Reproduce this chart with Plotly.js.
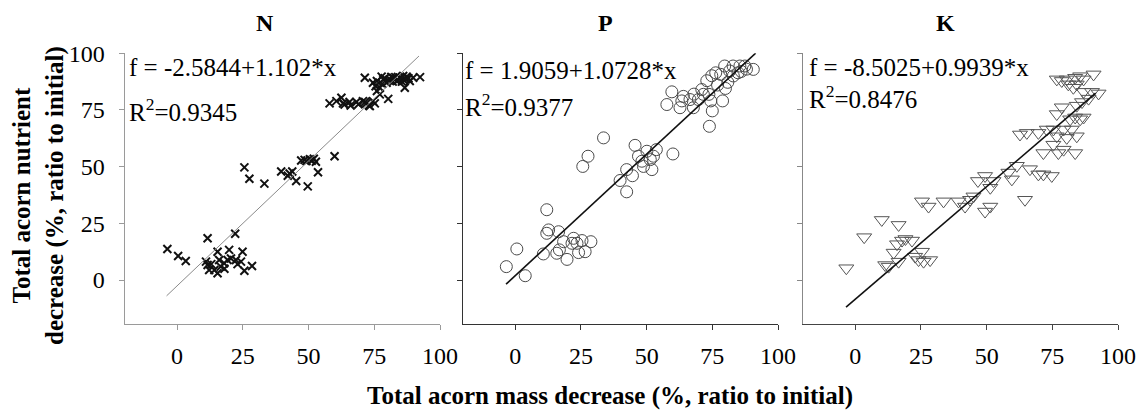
<!DOCTYPE html>
<html>
<head>
<meta charset="utf-8">
<script src="https://cdn.plot.ly/plotly-3.0.1.min.js"></script>
<style>html,body{margin:0;padding:0;background:#fff;}#chart{width:1147px;height:417px;}</style>
</head>
<body>
<div id="chart"></div>
<script>
// ---- data ----
const panelNames = ["N", "P", "K"];
const tickVals = [0, 25, 50, 75, 100];
const tickText = ["0", "25", "50", "75", "100"];

const xN = [-3.7,0.4,3.3,11.6,11,11.6,12.2,15.4,16,15.4,16.6,17.9,19.8,19.2,22.1,22.4,24.9,24.3,25.6,28.5,14.2,13,18,20.5,23,
  25.6,27.5,33.2,39.6,42.1,43.8,42.8,45.3,49.7,47.2,48.5,49.2,50.5,51.2,52,52.8,53.6,59.9,
  58,60.6,62.5,63.1,63.7,65.6,68.2,70.7,72,73.3,74.5,75.2,80.3,77.1,66,69,71.5,73,
  71.4,74.5,76,77.8,78.4,79.7,81,82.2,83.5,84.7,86,87.3,88.5,89.8,92.4,86.6,77.1,76,79,80.5,82,83,84,85.5,87,88,81.5,86,78,75.5];
const yN = [13.7,10.6,8.4,18.4,8.1,6.6,4.4,12.5,8.8,3.0,5.9,7.4,13.3,8.8,20.4,8.8,12.5,8.1,4.1,6.2,4.4,7,5,9.5,7,
  49.7,44.7,42.5,47.9,46,47.9,47,43.7,41.3,52.7,53,52.5,53.3,52.6,53.5,52.2,47.5,54.6,
  77.9,78.9,80.4,77.9,77.4,78.5,78.5,78.9,77.9,76.7,78.9,77.9,79.9,81.9,77,77.5,78.5,77,
  89.2,87,87.8,89.7,88.5,87,88.5,89.2,87.8,89.2,88.5,89.7,87.8,89.2,89.5,84.8,84.8,83.4,89,88,87.5,89.5,88,87.5,88.5,89,89.6,90,86.5,85.5];

const xP = [-3.4,0.6,3.8,12,12.7,12,10.7,16.5,15.8,16.8,18.4,19.7,22.2,21.6,23.5,24.1,25.4,26.6,28.8,
  25.7,27.7,33.6,39.9,42.4,44.6,42.4,45.6,46.9,48.2,48.8,50.1,51.4,53.7,52.6,52,60,
  57.7,59.6,62.7,63.4,66.5,67.8,69.7,71,71.6,73.9,73.7,75,74.4,76.3,78.9,78.2,79.7,81.6,82.9,84.8,85.5,87.4,90.6,72.9,74.8,80.9,83,86,88,77,80,64,68];
const yP = [5.9,13.7,1.9,31,22.1,20.6,11.5,21.3,11.8,13.3,16.9,9.1,18.4,16.2,16.2,12.1,17.4,12.5,16.9,
  50.1,54.6,62.7,43.9,48.7,46,38.9,59.4,54.6,52.4,50.1,56.8,53.1,57.5,54.6,48.7,55.6,
  77.4,83,76,79,79.6,76,79.6,84,81.9,67.8,81.9,74.6,79,91.4,79,90.7,94.4,92.2,94.4,91.4,94.4,94.4,92.9,87.9,90.1,87.2,90,92,93,86,84.5,81,82];

const xK = [-3.4,3.4,10.1,16.5,11.4,12.7,16.5,17.8,19.1,21.6,14.6,15.9,22.8,25.4,26,28.5,24.1,
  25.4,27.9,33.6,39.3,41.8,43.7,45,49.4,51.4,
  46.7,49.4,51.4,52.6,58.3,59.6,61.5,64.6,66.5,69.7,71.6,74.8,
  62.7,65.3,69.7,71.6,72.9,75.4,76.7,76.7,78.6,79.3,75.4,77.3,79.3,80.5,83.7,82.4,84.3,81.8,83.7,85.6,86.9,84.3,86.3,86.9,90.1,92.6,
  76.7,78.6,80.5,83.7,85.6,86.9,90.7,84.3,83,81.1,88.8];
const yK = [5.2,18.9,26.5,24.3,6.6,5.9,8.1,17.4,18.1,17.4,12.1,15.8,10.3,12.5,8.1,8.8,8.8,
  34.7,32.4,34.7,34.7,32.4,35.4,36.9,30.2,32.4,
  43.7,45.9,40.7,43.7,47.4,44.4,50.4,35.4,48.9,46.6,46.6,45.9,
  64.2,64.9,64.9,56,66.4,66.4,63.4,73.2,76.2,66.4,59.7,56,57.5,62.7,56,66.4,63.4,70.9,71.7,70.9,71.7,76.9,78.5,83,83,82.3,
  88.5,87.8,88.5,89.2,89.9,88.5,90.7,86.3,84.8,86.3,80];

// regression equations
const intercepts = [-2.5844, 1.9059, -8.5025];
const slopes = [1.102, 1.0728, 0.9939];
const r2 = ["0.9345", "0.9377", "0.8476"];
const fitStart = [-4, -3.5, -3.5];
const fitEnd = [92, 91.5, 91.5];

// ---- layout helpers ----
const W = 1147, H = 417;
const px = v => v / W;
const py = v => 1 - v / H;
const FONT = "Liberation Serif, Times New Roman, serif";

const xDomPx = [[124.5, 440], [462.7, 778], [802.7, 1118]];
const yDomPx = [53.3, 324];
const axisColor = [["#9a9a9a", "#9a9a9a"], ["#333", "#333"], ["#888", "#444"]];

const xs = [xN, xP, xK], ys = [yN, yP, yK];
const markers = [
  {symbol: "x-thin-open", size: 8, color: "#111", line: {width: 2, color: "#111"}},
  {symbol: "circle-open", size: 12, color: "#4a4a4a", line: {width: 1, color: "#4a4a4a"}},
  {symbol: "triangle-down-open", size: 13, color: "#555", line: {width: 1, color: "#555"}}
];
const fitLine = [{color: "#8a8a8a", width: 1}, {color: "#111", width: 1.6}, {color: "#111", width: 1.6}];

const traces = [];
const layout = {
  width: W, height: H,
  margin: {l: 0, r: 0, t: 0, b: 0},
  paper_bgcolor: "#fff", plot_bgcolor: "#fff",
  showlegend: false,
  font: {family: FONT, size: 24, color: "#000"},
  annotations: []
};

for (let i = 0; i < 3; i++) {
  const sfx = i === 0 ? "" : String(i + 1);
  traces.push({
    type: "scatter", mode: "markers",
    x: xs[i], y: ys[i],
    xaxis: "x" + sfx, yaxis: "y" + sfx,
    marker: markers[i], hoverinfo: "x+y"
  });
  const lx = [fitStart[i], fitEnd[i]];
  traces.push({
    type: "scatter", mode: "lines",
    x: lx, y: lx.map(v => intercepts[i] + slopes[i] * v),
    xaxis: "x" + sfx, yaxis: "y" + sfx,
    line: fitLine[i], hoverinfo: "skip"
  });
  layout["xaxis" + sfx] = {
    domain: [px(xDomPx[i][0]), px(xDomPx[i][1])],
    range: [-20, 100], anchor: "y" + sfx,
    tickvals: tickVals, ticktext: tickText,
    ticks: "outside", ticklen: 5, tickcolor: axisColor[i][1],
    showline: true, linecolor: axisColor[i][1], linewidth: 1,
    showgrid: false, zeroline: false,
    tickfont: {family: FONT, size: 24, color: "#000"},
    ticklabelstandoff: 5
  };
  layout["yaxis" + sfx] = {
    domain: [py(yDomPx[1]), py(yDomPx[0])],
    range: [-19.4, 100], anchor: "x" + sfx,
    tickvals: tickVals, ticktext: tickText,
    ticks: "outside", ticklen: 5, tickcolor: axisColor[i][0],
    showline: true, linecolor: axisColor[i][0], linewidth: 1,
    showgrid: false, zeroline: false,
    showticklabels: i === 0,
    tickfont: {family: FONT, size: 24, color: "#000"},
    ticklabelstandoff: 9
  };
}

// panel titles
const titleX = [265, 605, 945];
panelNames.forEach((n, i) => layout.annotations.push({
  xref: "paper", yref: "paper", x: px(titleX[i]), y: py(23),
  xanchor: "center", yanchor: "middle", showarrow: false,
  text: "<b>" + n + "</b>", font: {family: FONT, size: 24, color: "#000"}
}));

// equations
const eqX = [127, 463, 807], eqY = [67, 70, 67], rY = [110, 105, 97];
for (let i = 0; i < 3; i++) {
  const a = intercepts[i], b = slopes[i];
  layout.annotations.push({
    xref: "paper", yref: "paper", x: px(eqX[i]), y: py(eqY[i]),
    xanchor: "left", yanchor: "middle", showarrow: false,
    text: "f = " + a.toFixed(4) + "+" + b + "*x",
    font: {family: FONT, size: 25, color: "#000"}
  });
  layout.annotations.push({
    xref: "paper", yref: "paper", x: px(eqX[i]), y: py(rY[i]),
    xanchor: "left", yanchor: "middle", showarrow: false,
    text: "R<sup>2</sup>=" + r2[i],
    font: {family: FONT, size: 25, color: "#000"}
  });
}

// axis titles
layout.annotations.push({
  xref: "paper", yref: "paper", x: px(610), y: py(396),
  xanchor: "center", yanchor: "middle", showarrow: false,
  text: "<b>Total acorn mass decrease (%, ratio to initial)</b>",
  font: {family: FONT, size: 25, color: "#000"}
});
layout.annotations.push({
  xref: "paper", yref: "paper", x: px(39), y: py(196),
  xanchor: "center", yanchor: "middle", showarrow: false, textangle: -90,
  text: "<b>Total acorn nutrient<br>decrease (%, ratio to initial)</b>",
  font: {family: FONT, size: 25, color: "#000"}
});

Plotly.newPlot("chart", traces, layout, {staticPlot: true});
</script>
</body>
</html>
